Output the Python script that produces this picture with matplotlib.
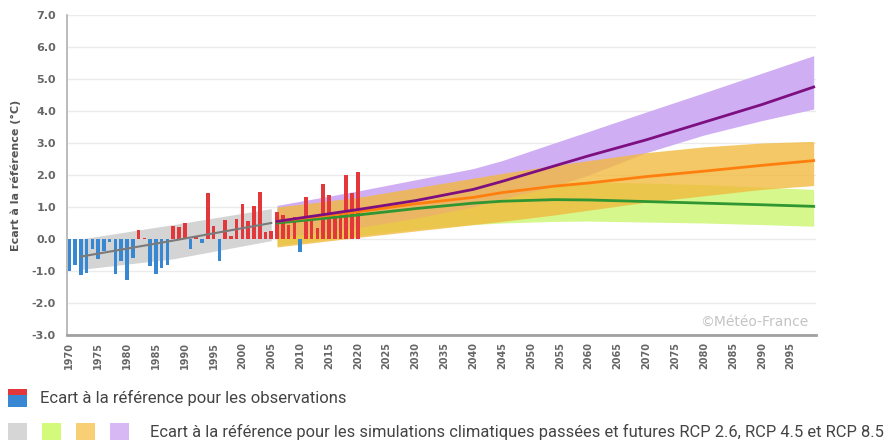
import numpy as np
import matplotlib.pyplot as plt
from matplotlib.patches import Rectangle

# observations: anomaly vs reference (degC), 1970-2020
obs_years = np.arange(1970, 2021)
obs_anom = np.array([
    -1.0, -0.82, -1.12, -1.07, -0.3, -0.62, -0.37, -0.1, -1.1, -0.68,
    -1.27, -0.6, 0.28, 0.02, -0.83, -1.1, -0.9, -0.8, 0.42, 0.36,
    0.5, -0.3, 0.1, -0.12, 1.43, 0.4, -0.68, 0.58, 0.1, 0.62,
    1.1, 0.57, 1.02, 1.48, 0.22, 0.25, 0.83, 0.75, 0.45, 0.68,
    -0.4, 1.32, 0.7, 0.35, 1.72, 1.38, 0.68, 0.86, 2.0, 1.45, 2.08,
])

# historical simulations
hist_years = [1972, 1988, 2005]
hist_mid = [-0.55, -0.05, 0.5]
hist_lo = [-0.95, -0.62, -0.05]
hist_hi = [0.0, 0.45, 0.95]

# scenarios
fut_years = [2006, 2020, 2030, 2040, 2045, 2054, 2060, 2070, 2080, 2090, 2099]
rcp26_mid = [0.5, 0.75, 0.95, 1.12, 1.18, 1.23, 1.22, 1.17, 1.12, 1.07, 1.02]
rcp26_lo = [-0.2, 0.1, 0.3, 0.45, 0.5, 0.55, 0.56, 0.53, 0.5, 0.45, 0.4]
rcp26_hi = [0.95, 1.25, 1.45, 1.6, 1.68, 1.75, 1.78, 1.75, 1.7, 1.62, 1.55]
rcp45_mid = [0.55, 0.85, 1.1, 1.3, 1.45, 1.65, 1.75, 1.95, 2.12, 2.3, 2.45]
rcp45_lo = [-0.25, 0.05, 0.25, 0.45, 0.55, 0.75, 0.9, 1.15, 1.35, 1.55, 1.67]
rcp45_hi = [1.0, 1.3, 1.6, 1.9, 2.05, 2.3, 2.45, 2.7, 2.88, 3.0, 3.05]
rcp85_mid = [0.55, 0.92, 1.2, 1.55, 1.8, 2.28, 2.6, 3.1, 3.65, 4.2, 4.75]
rcp85_lo = [0.05, 0.35, 0.65, 1.0, 1.25, 1.65, 2.0, 2.7, 3.25, 3.7, 4.06]
rcp85_hi = [1.05, 1.5, 1.85, 2.2, 2.45, 3.0, 3.36, 3.97, 4.57, 5.18, 5.73]

yticks = np.arange(-3, 8)
xticks = np.arange(1970, 2100, 5)

RED = '#e2383b'
BLUE = '#3887d3'
W, H = 892, 440

fig = plt.figure(figsize=(W / 100, H / 100), dpi=100)
ax = fig.add_axes([67 / W, 105 / H, 749 / W, 320 / H])

ax.fill_between(hist_years, hist_lo, hist_hi, color='#d4d4d4', lw=0, zorder=1)
ax.fill_between(fut_years, rcp26_lo, rcp26_hi, color='#d6f78c', lw=0, zorder=1)
ax.fill_between(fut_years, rcp85_lo, rcp85_hi, color='#cfaef4', lw=0, zorder=2)
ax.fill_between(fut_years, rcp45_lo, rcp45_hi, color='#f2b93b', alpha=0.78, lw=0, zorder=3)

bar_colors = [RED if v >= 0 else BLUE for v in obs_anom]
ax.bar(obs_years, obs_anom, width=0.62, color=bar_colors, zorder=4)

ax.plot(hist_years, hist_mid, color='#7a7a7a', lw=1.5, zorder=5)
ax.plot(fut_years, rcp26_mid, color='#2f9632', lw=2, zorder=5)
ax.plot(fut_years, rcp45_mid, color='#ff7f0e', lw=2, zorder=5)
ax.plot(fut_years, rcp85_mid, color='#7d0f80', lw=2, zorder=6)

ax.set_xlim(1969.6, 2099.4)
ax.set_ylim(-3, 7)
ax.set_yticks(yticks)
ax.set_yticklabels([f"{v:.1f}" for v in yticks], fontsize=8, fontweight='bold', color='#666666')
ax.set_xticks(xticks)
ax.set_xticklabels([str(v) for v in xticks], rotation=90, fontsize=7, fontweight='bold', color='#666666')
ax.tick_params(length=0)
ax.tick_params(axis='y', pad=8)
ax.tick_params(axis='x', pad=5)
ax.yaxis.grid(True, color='#ebebeb', lw=1)
ax.set_axisbelow(True)
for s in ['top', 'right']:
    ax.spines[s].set_visible(False)
ax.spines['left'].set_color('#b0b0b0')
ax.spines['left'].set_linewidth(1.2)
ax.spines['bottom'].set_color('#a0a0a0')
ax.spines['bottom'].set_linewidth(2)

ax.set_ylabel("Ecart à la référence (°C)", fontsize=8, fontweight='bold', color='#555555', labelpad=8)

ax.text(0.99, 0.02, "©Météo-France", transform=ax.transAxes, ha='right', va='bottom',
        fontsize=10, color='#c4c4c4', zorder=7)

# legend below the chart (pixel positions)
def px_rect(x, y, w, h, color):
    fig.patches.append(Rectangle((x / W, 1 - (y + h) / H), w / W, h / H,
                                 transform=fig.transFigure, color=color, lw=0))

px_rect(8, 389, 19, 6, RED)
px_rect(8, 395, 19, 12, BLUE)
fig.text(40 / W, 1 - 398 / H, "Ecart à la référence pour les observations",
         fontsize=12, color='#444444', va='center', family='Roboto')

for x0, c in zip([8, 42, 76, 110], ['#d6d6d6', '#d4fa7c', '#f8cf74', '#d7b8f5']):
    px_rect(x0, 423, 19, 18, c)
fig.text(150 / W, 1 - 432 / H,
         "Ecart à la référence pour les simulations climatiques passées et futures RCP 2.6, RCP 4.5 et RCP 8.5",
         fontsize=11.9, color='#444444', va='center', family='Roboto')

fig.savefig('out.png', dpi=100)
